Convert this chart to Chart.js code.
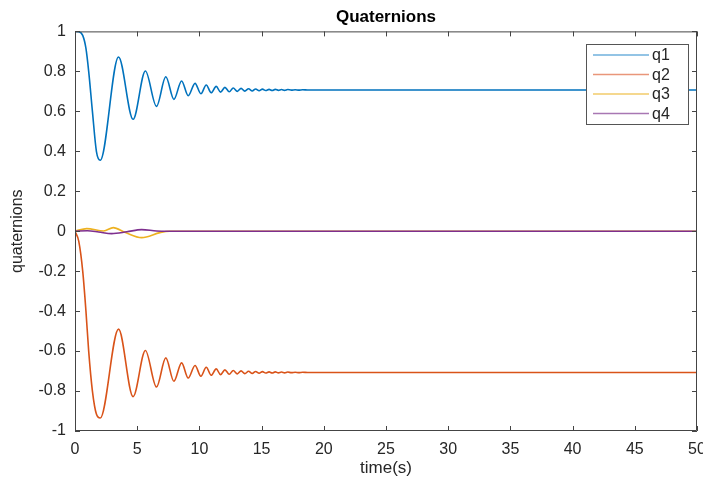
<!DOCTYPE html>
<html>
<head>
<meta charset="utf-8">
<style>
  html, body { margin: 0; padding: 0; background: #fff; }
  #wrap { width: 703px; height: 479px; }
</style>
<script src="https://cdn.jsdelivr.net/npm/chart.js@4.4.1/dist/chart.umd.min.js"></script>
</head>
<body>
<div id="wrap"><canvas id="chart" width="703" height="479"></canvas></div>
<script>
// Time samples (s) at the turning points of q1/q2.
const timeMain = [
  0, 0.3, 0.62, 0.88, 1.1, 1.4, 1.72, 2.03,
  3.5, 4.67, 5.66, 6.55, 7.3, 7.95, 8.57, 9.1, 9.65, 10.12,
  10.55, 10.95, 11.35, 11.7, 12.05, 12.4, 12.72, 13.05, 13.35, 13.65,
  13.95, 14.25, 14.52, 14.8, 15.07, 15.33, 15.6, 15.85, 16.1, 16.35,
  16.6, 16.85, 17.1, 17.4, 17.7, 18.0, 18.3, 18.7, 30, 50
];
const q1 = [
  1, 0.999, 0.98, 0.915, 0.8, 0.6, 0.4, 0.355,
  0.872, 0.56, 0.802, 0.625, 0.773, 0.66, 0.752, 0.678, 0.74, 0.688,
  0.732, 0.693, 0.725, 0.696, 0.72, 0.698, 0.717, 0.70, 0.715, 0.701,
  0.713, 0.702, 0.712, 0.703, 0.711, 0.704, 0.710, 0.704, 0.710, 0.705,
  0.709, 0.705, 0.709, 0.706, 0.708, 0.706, 0.708, 0.707, 0.707, 0.707
];
const q2 = [
  0, -0.05, -0.2, -0.4, -0.6, -0.8, -0.915, -0.935,
  -0.49, -0.828, -0.597, -0.78, -0.634, -0.751, -0.659, -0.735, -0.672, -0.726,
  -0.681, -0.721, -0.689, -0.718, -0.694, -0.716, -0.697, -0.714, -0.699, -0.713,
  -0.701, -0.712, -0.702, -0.711, -0.703, -0.710, -0.704, -0.710, -0.704, -0.709,
  -0.705, -0.709, -0.705, -0.708, -0.706, -0.708, -0.706, -0.707, -0.707, -0.707
];

// q3 / q4 stay close to zero, they only wiggle during the first seconds.
const timeQ3 = [0, 0.94, 2.3, 3.08, 4.0, 5.36, 6.83, 7.6, 50];
const q3 = [0, 0.013, 0.001, 0.018, -0.005, -0.032, -0.007, 0, 0];
const timeQ4 = [0, 1.0, 1.9, 2.95, 4.16, 5.36, 6.56, 7.5, 50];
const q4 = [0, 0.002, -0.004, -0.012, -0.003, 0.008, 0.001, 0, 0];

const seriesLabels = ["q1", "q2", "q3", "q4"];
const seriesColors = ["#0072BD", "#D95319", "#EDB120", "#7E2F8E"];
const legendColors = ["#6fb0dc", "#e9967a", "#f2cb6a", "#a877b3"];

const FONT = "'Liberation Sans', Arial, Helvetica, sans-serif";
const AXIS_COLOR = "#262626";

function points(times, values) {
  return times.map((t, i) => ({ x: t, y: values[i] }));
}

function dataset(i, times, values) {
  return {
    label: seriesLabels[i],
    data: points(times, values),
    borderColor: seriesColors[i],
    borderWidth: 1.6,
    pointRadius: 0,
    fill: false,
    cubicInterpolationMode: "monotone",
    order: 4 - i, // q4 last plotted -> on top, like MATLAB
  };
}

// MATLAB-like box with inward ticks on all four sides.
const matlabAxesPlugin = {
  id: "matlabAxes",
  afterDatasetsDraw(chart) {
    const { ctx, chartArea: { left, right, top, bottom }, scales: { x, y } } = chart;
    const len = 5;
    ctx.save();
    ctx.strokeStyle = "#444";
    ctx.lineWidth = 1;
    ctx.beginPath();
    ctx.rect(left + 0.5, top + 0.5, right - left - 1, bottom - top - 1);
    x.ticks.forEach((t) => {
      const px = Math.round(x.getPixelForValue(t.value)) + 0.5;
      ctx.moveTo(px, bottom);
      ctx.lineTo(px, bottom - len);
      ctx.moveTo(px, top);
      ctx.lineTo(px, top + len);
    });
    y.ticks.forEach((t) => {
      const py = Math.round(y.getPixelForValue(t.value)) + 0.5;
      ctx.moveTo(left, py);
      ctx.lineTo(left + len, py);
      ctx.moveTo(right, py);
      ctx.lineTo(right - len, py);
    });
    ctx.stroke();
    ctx.restore();
  },
};

// Legend box in the top right corner, inside the axes.
const boxLegendPlugin = {
  id: "boxLegend",
  afterDraw(chart) {
    const { ctx } = chart;
    const bx = 586, by = 44, bw = 102, bh = 80;
    ctx.save();
    ctx.fillStyle = "#fff";
    ctx.fillRect(bx, by, bw, bh);
    ctx.strokeStyle = "#555";
    ctx.lineWidth = 1;
    ctx.strokeRect(bx + 0.5, by + 0.5, bw, bh);
    ctx.font = "16px " + FONT;
    ctx.textBaseline = "middle";
    ctx.textAlign = "left";
    seriesLabels.forEach((lbl, i) => {
      const ry = by + 11 + i * 19.5;
      ctx.strokeStyle = legendColors[i];
      ctx.lineWidth = 1.5;
      ctx.beginPath();
      ctx.moveTo(bx + 7, ry);
      ctx.lineTo(bx + 63, ry);
      ctx.stroke();
      ctx.fillStyle = AXIS_COLOR;
      ctx.fillText(lbl, bx + 66, ry + 1);
    });
    ctx.restore();
  },
};

new Chart(document.getElementById("chart"), {
  type: "line",
  data: {
    datasets: [
      dataset(0, timeMain, q1),
      dataset(1, timeMain, q2),
      dataset(2, timeQ3, q3),
      dataset(3, timeQ4, q4),
    ],
  },
  options: {
    responsive: false,
    animation: false,
    layout: { padding: { left: 0, right: 6, top: 0, bottom: 0 } },
    plugins: {
      legend: { display: false },
      tooltip: { enabled: false },
      title: {
        display: true,
        fullSize: false,
        text: "Quaternions",
        color: "#000",
        font: { family: FONT, size: 17, weight: "bold" },
        padding: { top: 7, bottom: 4 },
      },
    },
    scales: {
      x: {
        type: "linear",
        min: 0,
        max: 50,
        grid: { display: false, drawTicks: false },
        border: { display: false },
        ticks: {
          stepSize: 5,
          maxRotation: 0,
          padding: 9,
          color: AXIS_COLOR,
          font: { family: FONT, size: 16 },
        },
        title: {
          display: true,
          text: "time(s)",
          color: AXIS_COLOR,
          font: { family: FONT, size: 17 },
          padding: { top: 0, bottom: 0 },
        },
        afterFit: (s) => {
          s.height = 48;
          s.paddingLeft = 0;
          s.paddingRight = 0;
        },
      },
      y: {
        min: -1,
        max: 1,
        grid: { display: false, drawTicks: false },
        border: { display: false },
        ticks: {
          stepSize: 0.2,
          padding: 9,
          color: AXIS_COLOR,
          font: { family: FONT, size: 16 },
          callback: (v) => String(Math.round(v * 10) / 10),
        },
        title: {
          display: true,
          text: "quaternions",
          color: AXIS_COLOR,
          font: { family: FONT, size: 16 },
          padding: { top: 8, bottom: 0 },
        },
        afterFit: (s) => {
          s.width = 75;
          s.paddingTop = 0;
          s.paddingBottom = 0;
        },
      },
    },
  },
  plugins: [matlabAxesPlugin, boxLegendPlugin],
});
</script>
</body>
</html>
